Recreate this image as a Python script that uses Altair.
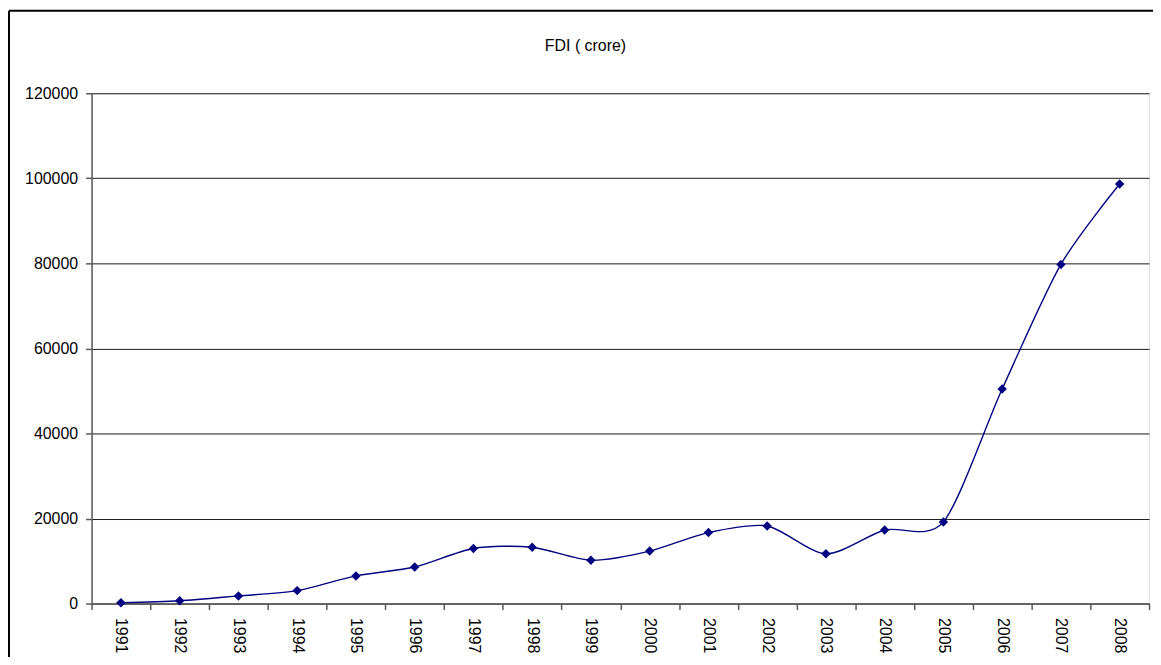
import altair as alt
import pandas as pd

years = ["1991", "1992", "1993", "1994", "1995", "1996", "1997", "1998", "1999",
         "2000", "2001", "2002", "2003", "2004", "2005", "2006", "2007", "2008"]
fdi = [200, 650, 1800, 3050, 6500, 8600, 12950, 13250, 10200,
       12350, 16700, 18250, 11700, 17300, 19200, 50450, 79750, 98650]
y_ticks = [0, 20000, 40000, 60000, 80000, 100000, 120000]
title_text = "FDI ( crore)"

df = pd.DataFrame({"year": years, "fdi": fdi})

W, H = 1063, 513
PL, PT, PR, PB = 84, 84, 4, 52
FONT = "Liberation Sans"

x = alt.X(
    "year:O", sort=years, title=None,
    scale=alt.Scale(type="band", paddingInner=0, paddingOuter=0),
    axis=alt.Axis(labelAngle=90, tickBand="extent", labelFontSize=16, labelFont=FONT,
                  labelPadding=8, tickSize=6, domainColor="#595959", tickColor="#595959",
                  domainWidth=1.5, tickWidth=1.5, labelColor="#000000", grid=False,
                  labelAlign="left", labelBaseline="middle"),
)
y = alt.Y(
    "fdi:Q", title=None,
    scale=alt.Scale(domain=[0, 120000], nice=False),
    axis=alt.Axis(values=y_ticks, format="d", grid=True, gridColor="#1a1a1a", gridWidth=1,
                  labelFontSize=16, labelFont=FONT, labelPadding=8, tickSize=6,
                  domainColor="#595959", tickColor="#595959", domainWidth=1.5, tickWidth=1.5,
                  labelColor="#000000"),
)

base = alt.Chart(df)
line = base.mark_line(interpolate="cardinal", tension=0.2, color="#000080",
                      strokeWidth=1.4).encode(x=x, y=y)
pts = base.mark_point(shape="diamond", filled=True, size=90, color="#000080",
                      opacity=1).encode(x=x, y=y)

frame_df = pd.DataFrame({"a": [0]})
top_edge = alt.Chart(frame_df).mark_rule(color="#000000", strokeWidth=2).encode(
    x=alt.value(-PL + 1), x2=alt.value(W + PR + 10), y=alt.value(-PT + 1))
left_edge = alt.Chart(frame_df).mark_rule(color="#000000", strokeWidth=2).encode(
    x=alt.value(-PL + 1), y=alt.value(-PT + 1), y2=alt.value(H + PB + 10))

chart = alt.layer(line, pts, top_edge, left_edge).properties(
    width=W, height=H,
    padding={"left": PL, "top": PT, "right": PR, "bottom": PB},
    autosize=alt.AutoSizeParams(type="none"),
    title=alt.TitleParams(title_text, fontSize=16, font=FONT, fontWeight="normal",
                          anchor="middle", dx=-35, offset=-58, baseline="alphabetic",
                          color="#000000"),
).configure_view(stroke=None).configure(background="white")

chart.save("out.html", embed_options={"renderer": "svg", "actions": False})
